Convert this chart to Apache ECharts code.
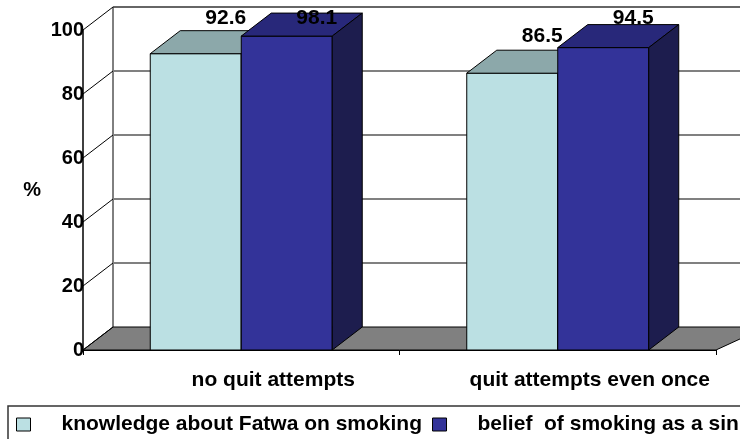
<!DOCTYPE html>
<html>
<head>
<meta charset="utf-8">
<script src="https://cdn.jsdelivr.net/npm/echarts@6/dist/echarts.min.js"></script>
<style>
  html, body { margin: 0; padding: 0; background: #fff; }
  #chart { width: 740px; height: 439px; }
</style>
</head>
<body>
<div id="chart"></div>
<script>
// Survey results: share of respondents (%) by quit-attempt history
const categories = ['no quit attempts', 'quit attempts even once'];
const fatwaKnowledge = [92.6, 86.5];
const sinBelief = [98.1, 94.5];
const valueTicks = [0, 20, 40, 60, 80, 100];

const seriesNames = ['knowledge about Fatwa on smoking', 'belief  of smoking as a sin'];

// Oblique projection used to fake the 3D look (depth of walls and bars)
const DX = 30;
const DY = -23;
const BAR_RATIO = 0.2875;
const FONT = "'Liberation Sans', Arial, sans-serif";

const palette = [
  { front: '#BBE0E3', top: '#8CA8AA', side: '#6F8688' },
  { front: '#333399', top: '#28287A', side: '#1D1D4E' }
];

// Walls, floor and gridlines drawn from the value axis scale
function renderFrame(params, api) {
  const cs = params.coordSys;
  const x = cs.x, w = cs.width;
  const yBase = api.coord([0, 0])[1];
  const children = [];
  // floor
  children.push({
    type: 'polygon',
    shape: { points: [[x, yBase], [x + DX, yBase + DY], [x + w + DX + 20, yBase + DY], [x + w, yBase]] },
    style: { fill: '#808080', stroke: '#000', lineWidth: 1 }
  });
  // back wall left edge
  children.push({
    type: 'line',
    shape: { x1: x + DX, y1: api.coord([0, valueTicks[valueTicks.length - 1]])[1] + DY, x2: x + DX, y2: yBase + DY },
    style: { stroke: '#000', lineWidth: 1 }
  });
  valueTicks.forEach(function (v, i) {
    const yv = api.coord([0, v])[1];
    // side wall depth lines
    children.push({
      type: 'line',
      shape: { x1: x, y1: yv, x2: x + DX, y2: yv + DY },
      style: { stroke: '#000', lineWidth: 1 }
    });
    if (v === 0) return;
    const isTop = i === valueTicks.length - 1;
    children.push({
      type: 'line',
      shape: { x1: x + DX, y1: yv + DY, x2: x + w + DX + 20, y2: yv + DY },
      style: { stroke: isTop ? '#333' : '#808080', lineWidth: isTop ? 1.5 : 2 }
    });
  });
  return { type: 'group', children: children };
}

// A 3D box per bar: front face, top face, right face and a value label
function makeBarRenderer(seriesIndex) {
  const colors = palette[seriesIndex];
  const side = seriesIndex === 0 ? -1 : 0;
  return function (params, api) {
    const cat = api.value(0);
    const val = api.value(1);
    const base = api.coord([cat, 0]);
    const top = api.coord([cat, val]);
    const bw = api.size([1, 0])[0] * BAR_RATIO;
    const x0 = base[0] + side * bw;
    const x1 = x0 + bw;
    const yT = top[1];
    const yB = base[1];
    const cs = params.coordSys;
    const labelY = Math.max(yT + DY - 14, cs.y - 12);
    return {
      type: 'group',
      children: [
        {
          type: 'rect',
          shape: { x: x0, y: yT, width: bw, height: yB - yT },
          style: { fill: colors.front, stroke: '#000', lineWidth: 1 }
        },
        {
          type: 'polygon',
          shape: { points: [[x0, yT], [x0 + DX, yT + DY], [x1 + DX, yT + DY], [x1, yT]] },
          style: { fill: colors.top, stroke: '#000', lineWidth: 1 }
        },
        {
          type: 'polygon',
          shape: { points: [[x1, yT], [x1 + DX, yT + DY], [x1 + DX, yB + DY], [x1, yB]] },
          style: { fill: colors.side, stroke: '#000', lineWidth: 1 }
        },
        {
          type: 'text',
          z2: 100,
          style: {
            x: x0 + bw / 2 + DX,
            y: labelY,
            text: String(val),
            align: 'center',
            verticalAlign: 'middle',
            fill: '#000',
            font: 'bold 21px ' + FONT
          }
        }
      ]
    };
  };
}

const chart = echarts.init(document.getElementById('chart'), null, { renderer: 'canvas' });

chart.setOption({
  animation: false,
  backgroundColor: '#fff',
  textStyle: { fontFamily: FONT },
  grid: { left: 83, right: 24, top: 30, bottom: 89, containLabel: false },
  xAxis: {
    type: 'category',
    data: categories,
    boundaryGap: true,
    axisLine: { show: true, lineStyle: { color: '#000', width: 1 } },
    axisTick: { show: true, length: 5, lineStyle: { color: '#000' } },
    splitLine: { show: false },
    axisLabel: {
      color: '#000',
      fontWeight: 'bold',
      fontSize: 21,
      fontFamily: FONT,
      margin: 20,
      padding: [0, 0, 0, 64]
    }
  },
  yAxis: {
    type: 'value',
    min: 0,
    max: 100,
    interval: 20,
    name: '%',
    nameLocation: 'middle',
    nameRotate: 0,
    nameGap: 42,
    nameTextStyle: { color: '#000', fontWeight: 'bold', fontSize: 20, fontFamily: FONT },
    axisLine: { show: true, lineStyle: { color: '#000', width: 1.5 } },
    axisTick: { show: false },
    splitLine: { show: false },
    axisLabel: {
      color: '#000',
      fontWeight: 'bold',
      fontSize: 20,
      fontFamily: FONT,
      margin: -1
    }
  },
  legend: {
    left: 16,
    top: 414,
    width: 2000,
    padding: 0,
    itemWidth: 14,
    itemHeight: 13,
    itemGap: 10,
    icon: 'rect',
    textStyle: { color: '#000', fontWeight: 'bold', fontSize: 21, fontFamily: FONT, padding: [0, 0, 0, 26] },
    data: [
      { name: seriesNames[0], itemStyle: { color: palette[0].front, borderColor: '#000', borderWidth: 1 } },
      { name: seriesNames[1], itemStyle: { color: palette[1].front, borderColor: '#000', borderWidth: 1 } }
    ]
  },
  graphic: [
    {
      type: 'rect',
      silent: true,
      shape: { x: 8, y: 406, width: 780, height: 80 },
      style: { fill: 'none', stroke: '#333', lineWidth: 1.5 }
    }
  ],
  series: [
    {
      type: 'custom',
      name: 'frame',
      silent: true,
      z: 1,
      renderItem: renderFrame,
      data: [[0, 0]]
    },
    {
      type: 'custom',
      name: seriesNames[0],
      z: 2,
      itemStyle: { color: palette[0].front },
      renderItem: makeBarRenderer(0),
      encode: { x: 0, y: 1 },
      data: categories.map(function (c, i) { return [i, fatwaKnowledge[i]]; })
    },
    {
      type: 'custom',
      name: seriesNames[1],
      z: 3,
      itemStyle: { color: palette[1].front },
      renderItem: makeBarRenderer(1),
      encode: { x: 0, y: 1 },
      data: categories.map(function (c, i) { return [i, sinBelief[i]]; })
    }
  ]
});
</script>
</body>
</html>
